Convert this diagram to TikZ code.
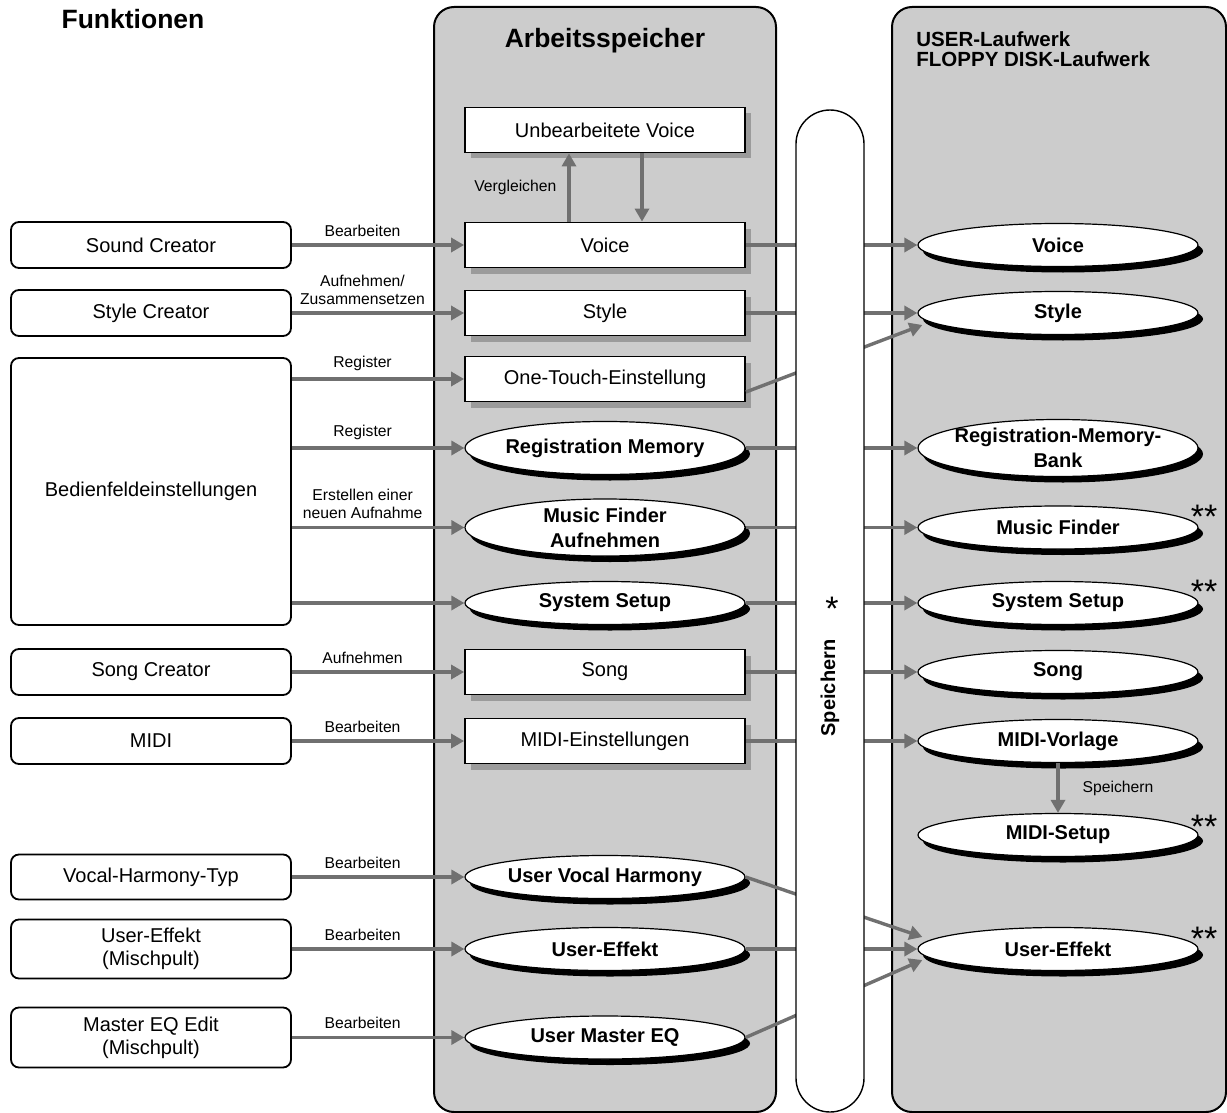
\documentclass[tikz,border=0pt]{standalone}
\usepackage{fontspec}
\setmainfont{Liberation Sans}
\usetikzlibrary{shapes,arrows.meta,positioning,shadows}

\definecolor{paneel}{RGB}{204,204,204}
\definecolor{pfeilgrau}{RGB}{112,112,112}
\definecolor{schatten}{RGB}{155,155,155}

\begin{document}
\begin{tikzpicture}[x=0.5pt,y=-0.5pt,
    every node/.style={font=\fontsize{10}{11.5}\selectfont, align=center},
    panel/.style={draw, line width=1pt, fill=paneel, rounded corners=10pt},
    func/.style={draw, line width=0.9pt, fill=white, rounded corners=4pt, minimum width=140pt, minimum height=23pt},
    mem/.style={draw, line width=0.9pt, fill=white, minimum width=140pt, minimum height=22.5pt,
        drop shadow={shadow xshift=3pt, shadow yshift=-3pt, fill=schatten, opacity=1}},
    oval/.style={draw, ellipse, line width=0.6pt, fill=white, font=\bfseries\fontsize{10}{12.5}\selectfont,
        minimum width=140pt, minimum height=21.5pt, inner xsep=-3pt, inner ysep=-1pt,
        drop shadow={shadow xshift=2.5pt, shadow yshift=-3pt, fill=black, opacity=1}},
    hoch/.style={minimum height=28.5pt},
    pfeil/.style={draw=pfeilgrau, line width=1.7pt, -{Triangle[length=6.5pt,width=7pt]}},
    beschr/.style={font=\fontsize{7.85}{9}\selectfont, inner sep=3.5pt},
    sterne/.style={font=\fontsize{17}{17}\selectfont, inner sep=0pt}]

    \useasboundingbox (0,0) rectangle (1227,1113);

    % background panels
    \draw[panel] (434,7) rectangle (776,1112);
    \draw[panel] (892,7) rectangle (1226,1112);

    \node[font=\bfseries\fontsize{13.25}{14}\selectfont] (funk) at (133,19) {Funktionen};
    \node[font=\bfseries\fontsize{13.25}{14}\selectfont] (arbsp) at (605,41) {Arbeitsspeicher};
    \node[font=\bfseries\fontsize{10.25}{10}\selectfont, anchor=north west, align=left, inner sep=0pt] (laufwerk) at (916,31) {USER-Laufwerk\\FLOPPY DISK-Laufwerk};

    % Funktionen
    \node[func] (sc) at (151,245) {Sound Creator};
    \node[func] (stc) at (151,313) {Style Creator};
    \node[func, minimum height=133.5pt] (bed) at (151,491.5) {Bedienfeldeinstellungen};
    \node[func] (soc) at (151,672) {Song Creator};
    \node[func] (midi) at (151,741) {MIDI};
    \node[func, minimum height=22.5pt] (vht) at (151,877) {Vocal-Harmony-Typ};
    \node[func, minimum height=29.5pt] (uem) at (151,949) {User-Effekt\\(Mischpult)};
    \node[func, minimum height=30pt] (meq) at (151,1037.5) {Master EQ Edit\\(Mischpult)};

    % Arbeitsspeicher
    \node[mem] (orig) at (605,130) {Unbearbeitete Voice};
    \node[mem] (voice) at (605,245) {Voice};
    \node[mem] (style) at (605,313) {Style};
    \node[mem] (ot) at (605,379) {One-Touch-Einstellung};
    \node[oval, minimum height=26.5pt] (rm) at (605,448) {Registration Memory};
    \node[oval, hoch] (mf) at (605,527.5) {Music Finder\\Aufnehmen};
    \node[oval] (sys) at (605,603) {System Setup};
    \node[mem] (song) at (605,672) {Song};
    \node[mem] (mset) at (605,741) {MIDI-Einstellungen};
    \node[oval] (uvh) at (605,877) {User Vocal Harmony};
    \node[oval] (ueff) at (605,949) {User-Effekt};
    \node[oval] (umeq) at (605,1037.5) {User Master EQ};

    % Laufwerke
    \node[oval] (rvoice) at (1058,245) {Voice};
    \node[oval] (rstyle) at (1058,313) {Style};
    \node[oval, hoch] (rbank) at (1058,448) {Registration-Memory-\\Bank};
    \node[oval] (rmf) at (1058,527.5) {Music Finder};
    \node[oval] (rsys) at (1058,603) {System Setup};
    \node[oval] (rsong) at (1058,672) {Song};
    \node[oval] (rmv) at (1058,741) {MIDI-Vorlage};
    \node[oval] (rms) at (1058,835) {MIDI-Setup};
    \node[oval] (rue) at (1058,949) {User-Effekt};

    \node[sterne] (s1) at (1204,516.5) {**};
    \node[sterne] (s2) at (1204,591.5) {**};
    \node[sterne] (s3) at (1204,826.5) {**};
    \node[sterne] (s4) at (1204,938.5) {**};

    % Funktionen -> Arbeitsspeicher
    \draw[pfeil] (sc) -- node[beschr, above, pos=0.41] {Bearbeiten} (voice);
    \draw[pfeil] (stc) -- node[beschr, above, pos=0.41] {Aufnehmen/\\Zusammensetzen} (style);
    \draw[pfeil] (bed.east |- ot) -- node[beschr, above, pos=0.41] {Register} (ot);
    \draw[pfeil] (bed.east |- rm) -- node[beschr, above, pos=0.41] {Register} (rm);
    \draw[pfeil] (bed.east |- mf) -- node[beschr, above, pos=0.41] {Erstellen einer\\neuen Aufnahme} (mf);
    \draw[pfeil] (bed.east |- sys) -- (sys);
    \draw[pfeil] (soc) -- node[beschr, above, pos=0.41] {Aufnehmen} (song);
    \draw[pfeil] (midi) -- node[beschr, above, pos=0.41] {Bearbeiten} (mset);
    \draw[pfeil] (vht) -- node[beschr, above, pos=0.41] {Bearbeiten} (uvh);
    \draw[pfeil] (uem) -- node[beschr, above, pos=0.41] {Bearbeiten} (ueff);
    \draw[pfeil] (meq) -- node[beschr, above, pos=0.41] {Bearbeiten} (umeq);

    \draw[pfeil] ([xshift=-18pt]voice.north) -- node[beschr, left=2pt] {Vergleichen} ([xshift=-18pt]orig.south);
    \draw[pfeil] ([xshift=18.5pt]orig.south) -- ([xshift=18.5pt]voice.north);

    % Arbeitsspeicher -> Laufwerke
    \draw[pfeil] (voice) -- (rvoice);
    \draw[pfeil] (style) -- (rstyle);
    \draw[pfeil] ([yshift=-6.5pt]ot.east) -- ([xshift=2.5pt,yshift=-6pt]rstyle.west);
    \draw[pfeil] (rm) -- (rbank);
    \draw[pfeil] (mf) -- (rmf);
    \draw[pfeil] (sys) -- (rsys);
    \draw[pfeil] (song) -- (rsong);
    \draw[pfeil] (mset) -- (rmv);
    \draw[pfeil] (uvh.east) -- ([xshift=2.5pt,yshift=6pt]rue.west);
    \draw[pfeil] (ueff) -- (rue);
    \draw[pfeil] (umeq.east) -- ([xshift=2.5pt,yshift=-5.5pt]rue.west);
    \draw[pfeil] (rmv) -- node[beschr, right=8pt] {Speichern} (rms);

    % Speichern bar over the connectors
    \node[draw, fill=white, line width=0.7pt, rounded corners=17pt, minimum width=34pt, minimum height=501pt] (spch) at (830,611) {};
    \node[font=\bfseries\fontsize{10}{11.5}\selectfont, rotate=90] (spchtxt) at (830,688) {Speichern};
    \node[sterne] (stern) at (832,608.5) {*};
\end{tikzpicture}
\end{document}
